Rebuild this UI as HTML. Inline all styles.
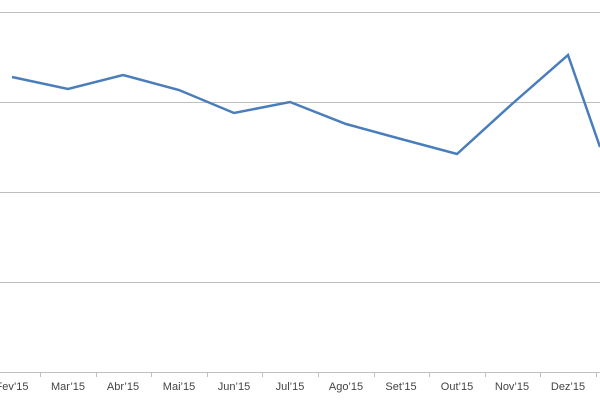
<!DOCTYPE html>
<html><head><style>body{margin:0;background:#fff}svg{display:block}</style></head><body>
<svg width="600" height="400" xmlns="http://www.w3.org/2000/svg">
<g stroke="#bfbfbf" stroke-width="1">
<line x1="0" y1="12.5" x2="600" y2="12.5"/>
<line x1="0" y1="102.5" x2="600" y2="102.5"/>
<line x1="0" y1="192.5" x2="600" y2="192.5"/>
<line x1="0" y1="282.5" x2="600" y2="282.5"/>
<line x1="0" y1="372.5" x2="600" y2="372.5"/>
<line x1="40.5" y1="372" x2="40.5" y2="377"/>
<line x1="96.5" y1="372" x2="96.5" y2="377"/>
<line x1="151.5" y1="372" x2="151.5" y2="377"/>
<line x1="207.5" y1="372" x2="207.5" y2="377"/>
<line x1="262.5" y1="372" x2="262.5" y2="377"/>
<line x1="318.5" y1="372" x2="318.5" y2="377"/>
<line x1="374.5" y1="372" x2="374.5" y2="377"/>
<line x1="429.5" y1="372" x2="429.5" y2="377"/>
<line x1="485.5" y1="372" x2="485.5" y2="377"/>
<line x1="540.5" y1="372" x2="540.5" y2="377"/>
<line x1="596.5" y1="372" x2="596.5" y2="377"/>
</g>
<polyline fill="none" stroke="#4a7ebb" stroke-width="2.5" stroke-linejoin="miter" points="12,77 68,89 123,75 179,90 234,113 290,102 346,124 401,139 457,154 512,104 568,55 600,147"/>
<g font-family="Liberation Sans, sans-serif" font-size="11" fill="#444" text-anchor="middle">
<text x="12" y="390">Fev’15</text>
<text x="68" y="390">Mar’15</text>
<text x="123" y="390">Abr’15</text>
<text x="179" y="390">Mai’15</text>
<text x="234" y="390">Jun’15</text>
<text x="290" y="390">Jul’15</text>
<text x="346" y="390">Ago’15</text>
<text x="401" y="390">Set’15</text>
<text x="457" y="390">Out’15</text>
<text x="512" y="390">Nov’15</text>
<text x="568" y="390">Dez’15</text>
</g>
</svg>
</body></html>
